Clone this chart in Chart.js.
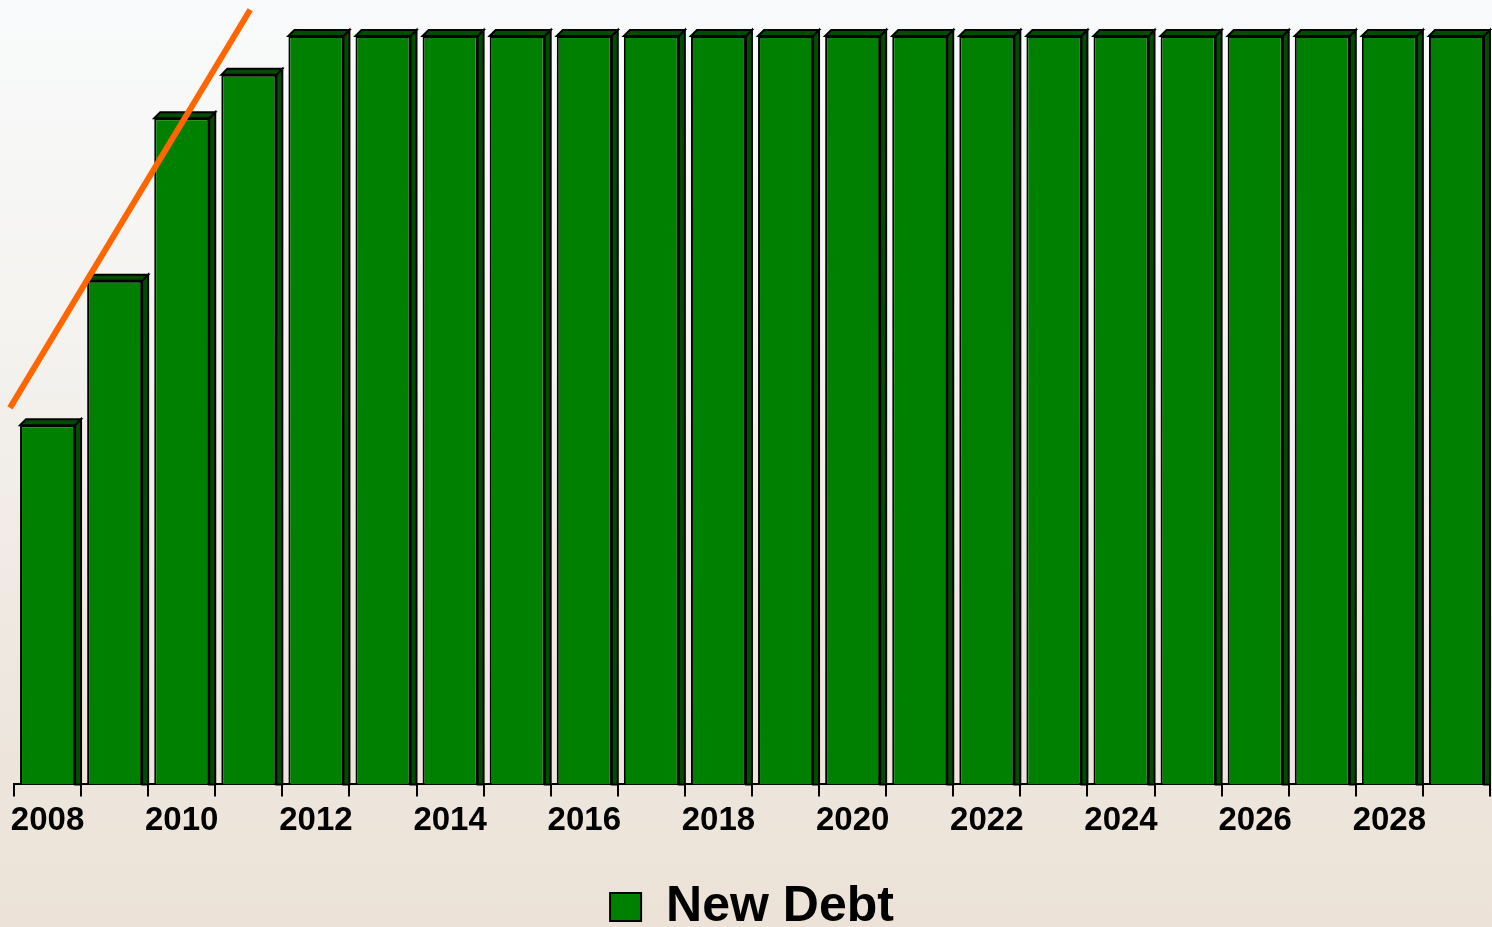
<!DOCTYPE html>
<html>
<head>
<meta charset="utf-8">
<title>New Debt</title>
<script src="https://cdn.jsdelivr.net/npm/chart.js@4/dist/chart.umd.min.js"></script>
<style>
  html, body { margin: 0; padding: 0; }
  body {
    width: 1492px; height: 927px; overflow: hidden;
    background: linear-gradient(to bottom, #f9fafb 0%, #f4f3f0 35%, #efe9e2 65%, #ece2d7 100%);
  }
  #wrap { position: relative; width: 1492px; height: 927px; }
</style>
</head>
<body>
<div id="wrap"><canvas id="chart"></canvas></div>
<script>
// Data
const years = ["2008", "2009", "2010", "2011", "2012", "2013", "2014", "2015", "2016", "2017", "2018",
               "2019", "2020", "2021", "2022", "2023", "2024", "2025", "2026", "2027", "2028", "2029"];
const newDebt = [480, 673, 890, 948, 1000, 1000, 1000, 1000, 1000, 1000, 1000,
                 1000, 1000, 1000, 1000, 1000, 1000, 1000, 1000, 1000, 1000, 1000];
// orange trend stroke, x in category-index units
const trendX = [-0.56, 3.02];
const trendY = [503, 1035];

const GREEN = "#008000";
const SIDE = "#004d00";
const DEPTH = 6;

// draws the side and top faces so the bars look like the 3D columns
const bar3d = {
  id: "bar3d",
  afterDatasetDraw(chart, args) {
    if (args.index !== 0) return;
    const ctx = chart.ctx;
    ctx.save();
    ctx.lineWidth = 2;
    ctx.strokeStyle = "#000";
    args.meta.data.forEach((bar) => {
      const x = bar.x, y = bar.y, base = bar.base, width = bar.width;
      const l = x - width / 2, r = x + width / 2;
      // side
      ctx.beginPath();
      ctx.moveTo(r, y);
      ctx.lineTo(r + DEPTH, y - DEPTH);
      ctx.lineTo(r + DEPTH, base);
      ctx.lineTo(r, base);
      ctx.closePath();
      ctx.fillStyle = SIDE;
      ctx.fill();
      ctx.stroke();
      // top
      ctx.beginPath();
      ctx.moveTo(l, y);
      ctx.lineTo(l + DEPTH, y - DEPTH);
      ctx.lineTo(r + DEPTH, y - DEPTH);
      ctx.lineTo(r, y);
      ctx.closePath();
      ctx.fill();
      ctx.stroke();
    });
    ctx.restore();
  }
};

new Chart(document.getElementById("chart"), {
  type: "bar",
  data: {
    labels: years,
    datasets: [
      {
        label: "New Debt",
        data: newDebt,
        xAxisID: "x",
        yAxisID: "y",
        grouped: false,
        backgroundColor: GREEN,
        borderColor: "#000",
        borderWidth: 2,
        categoryPercentage: 1,
        barPercentage: 0.82,
        order: 1
      },
      {
        type: "line",
        label: "trend",
        data: trendX.map((v, i) => ({ x: v, y: trendY[i] })),
        xAxisID: "xl",
        yAxisID: "y",
        borderColor: "#ff6600",
        borderWidth: 6,
        pointRadius: 0,
        borderCapStyle: "butt",
        clip: false,
        order: 0
      }
    ]
  },
  options: {
    responsive: true,
    maintainAspectRatio: false,
    animation: false,
    layout: { padding: { left: 14, right: 2, top: 0, bottom: -15 } },
    scales: {
      x: {
        type: "category",
        grid: { offset: true, drawOnChartArea: false, color: "#000", lineWidth: 2, tickLength: 12 },
        border: { display: true, color: "#000", width: 2 },
        ticks: {
          autoSkip: false,
          maxRotation: 0,
          padding: 5,
          color: "#000",
          font: { family: "'Liberation Sans', Arial, sans-serif", size: 33, weight: "bold" },
          callback: (v, i) => (i % 2 === 0 ? years[i] : "")
        },
        afterFit: (scale) => { scale.height += 36; }
      },
      xl: { type: "linear", axis: "x", position: "bottom", display: false, min: -0.5, max: 21.5, offset: false },
      y: { type: "linear", display: false, min: 0, max: 1048 }
    },
    plugins: {
      tooltip: { enabled: false },
      legend: {
        position: "bottom",
        labels: {
          filter: (item) => item.datasetIndex === 0,
          boxWidth: 31,
          boxHeight: 28,
          padding: 0,
          color: "#000",
          font: { family: "'Liberation Sans', Arial, sans-serif", size: 50, weight: "bold" }
        }
      }
    }
  },
  plugins: [bar3d]
});
</script>
</body>
</html>
